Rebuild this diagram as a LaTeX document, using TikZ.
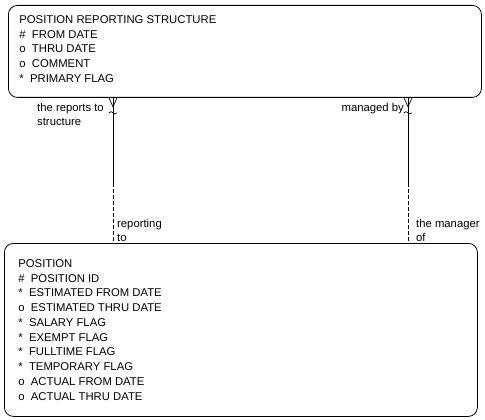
\documentclass[tikz,border=0pt]{standalone}
\usepackage{fontspec}
\setmainfont{Liberation Sans}
\usetikzlibrary{arrows, positioning, calc}

\begin{document}
\begin{tikzpicture}[x=1pt, y=-1pt, thin]
    \tikzstyle{entity}=[rectangle,
                       draw=black,
                       rounded corners=9pt,
                       line width=0.8pt,
                       anchor=north west,
                       inner xsep=11pt,
                       inner ysep=10pt,
                       font=\fontsize{11.3}{14.75}\selectfont]
    \tikzstyle{role}=[align=left, inner sep=0pt, font=\fontsize{11.3}{14}\selectfont]
    \tikzstyle{rel}=[draw=black, line width=0.7pt]
    \tikzstyle{optional}=[rel, dash pattern=on 4pt off 2pt]

    \useasboundingbox (0,0) rectangle (485,420);

    \node[entity] (S) at (8,5) {\parbox[t][72pt][t]{451pt}{%
        POSITION REPORTING STRUCTURE\\
        \#\ \ FROM DATE\\
        o\ \ THRU DATE\\
        o\ \ COMMENT\\
        {*}\ \ PRIMARY FLAG}};
    \node[entity, inner xsep=14pt, inner ysep=16pt] (P) at (4,243) {\parbox[t][141pt][t]{445pt}{%
        POSITION\\
        \#\ \ POSITION ID\\
        {*}\ \ ESTIMATED FROM DATE\\
        o\ \ ESTIMATED THRU DATE\\
        {*}\ \ SALARY FLAG\\
        {*}\ \ EXEMPT FLAG\\
        {*}\ \ FULLTIME FLAG\\
        {*}\ \ TEMPORARY FLAG\\
        o\ \ ACTUAL FROM DATE\\
        o\ \ ACTUAL THRU DATE}};

    % relationship ends
    \coordinate (a1) at ($(S.south west)+(105,0)$);
    \coordinate (a2) at ($(P.north west)+(109,0)$);
    \coordinate (b1) at ($(S.south west)+(400,0)$);
    \coordinate (b2) at ($(P.north west)+(404,0)$);

    \foreach \u/\v in {a1/a2, b1/b2} {
        \draw[rel] (\u) -- ($(\u)!0.59!(\v)$) coordinate (\u m);
        \draw[optional] (\u m) -- (\v);
        \draw[rel] ($(\u)+(-4,0)$) -- ($(\u)+(0,9)$) -- ($(\u)+(4,0)$);
        \draw[rel] ($(\u)+(-4,15)$) .. controls ($(\u)+(-1,11)$) and ($(\u)+(1,19)$) .. ($(\u)+(4,15)$);
    }

    \node[role, anchor=north west] (l1) at (37,103) {the reports to\\structure};
    \node[role, anchor=base east]  (l2) at (404,111) {managed by};
    \node[role, anchor=north west] (l3) at (117,219) {reporting\\to};
    \node[role, anchor=north west] (l4) at (416,219) {the manager\\of};
\end{tikzpicture}
\end{document}
